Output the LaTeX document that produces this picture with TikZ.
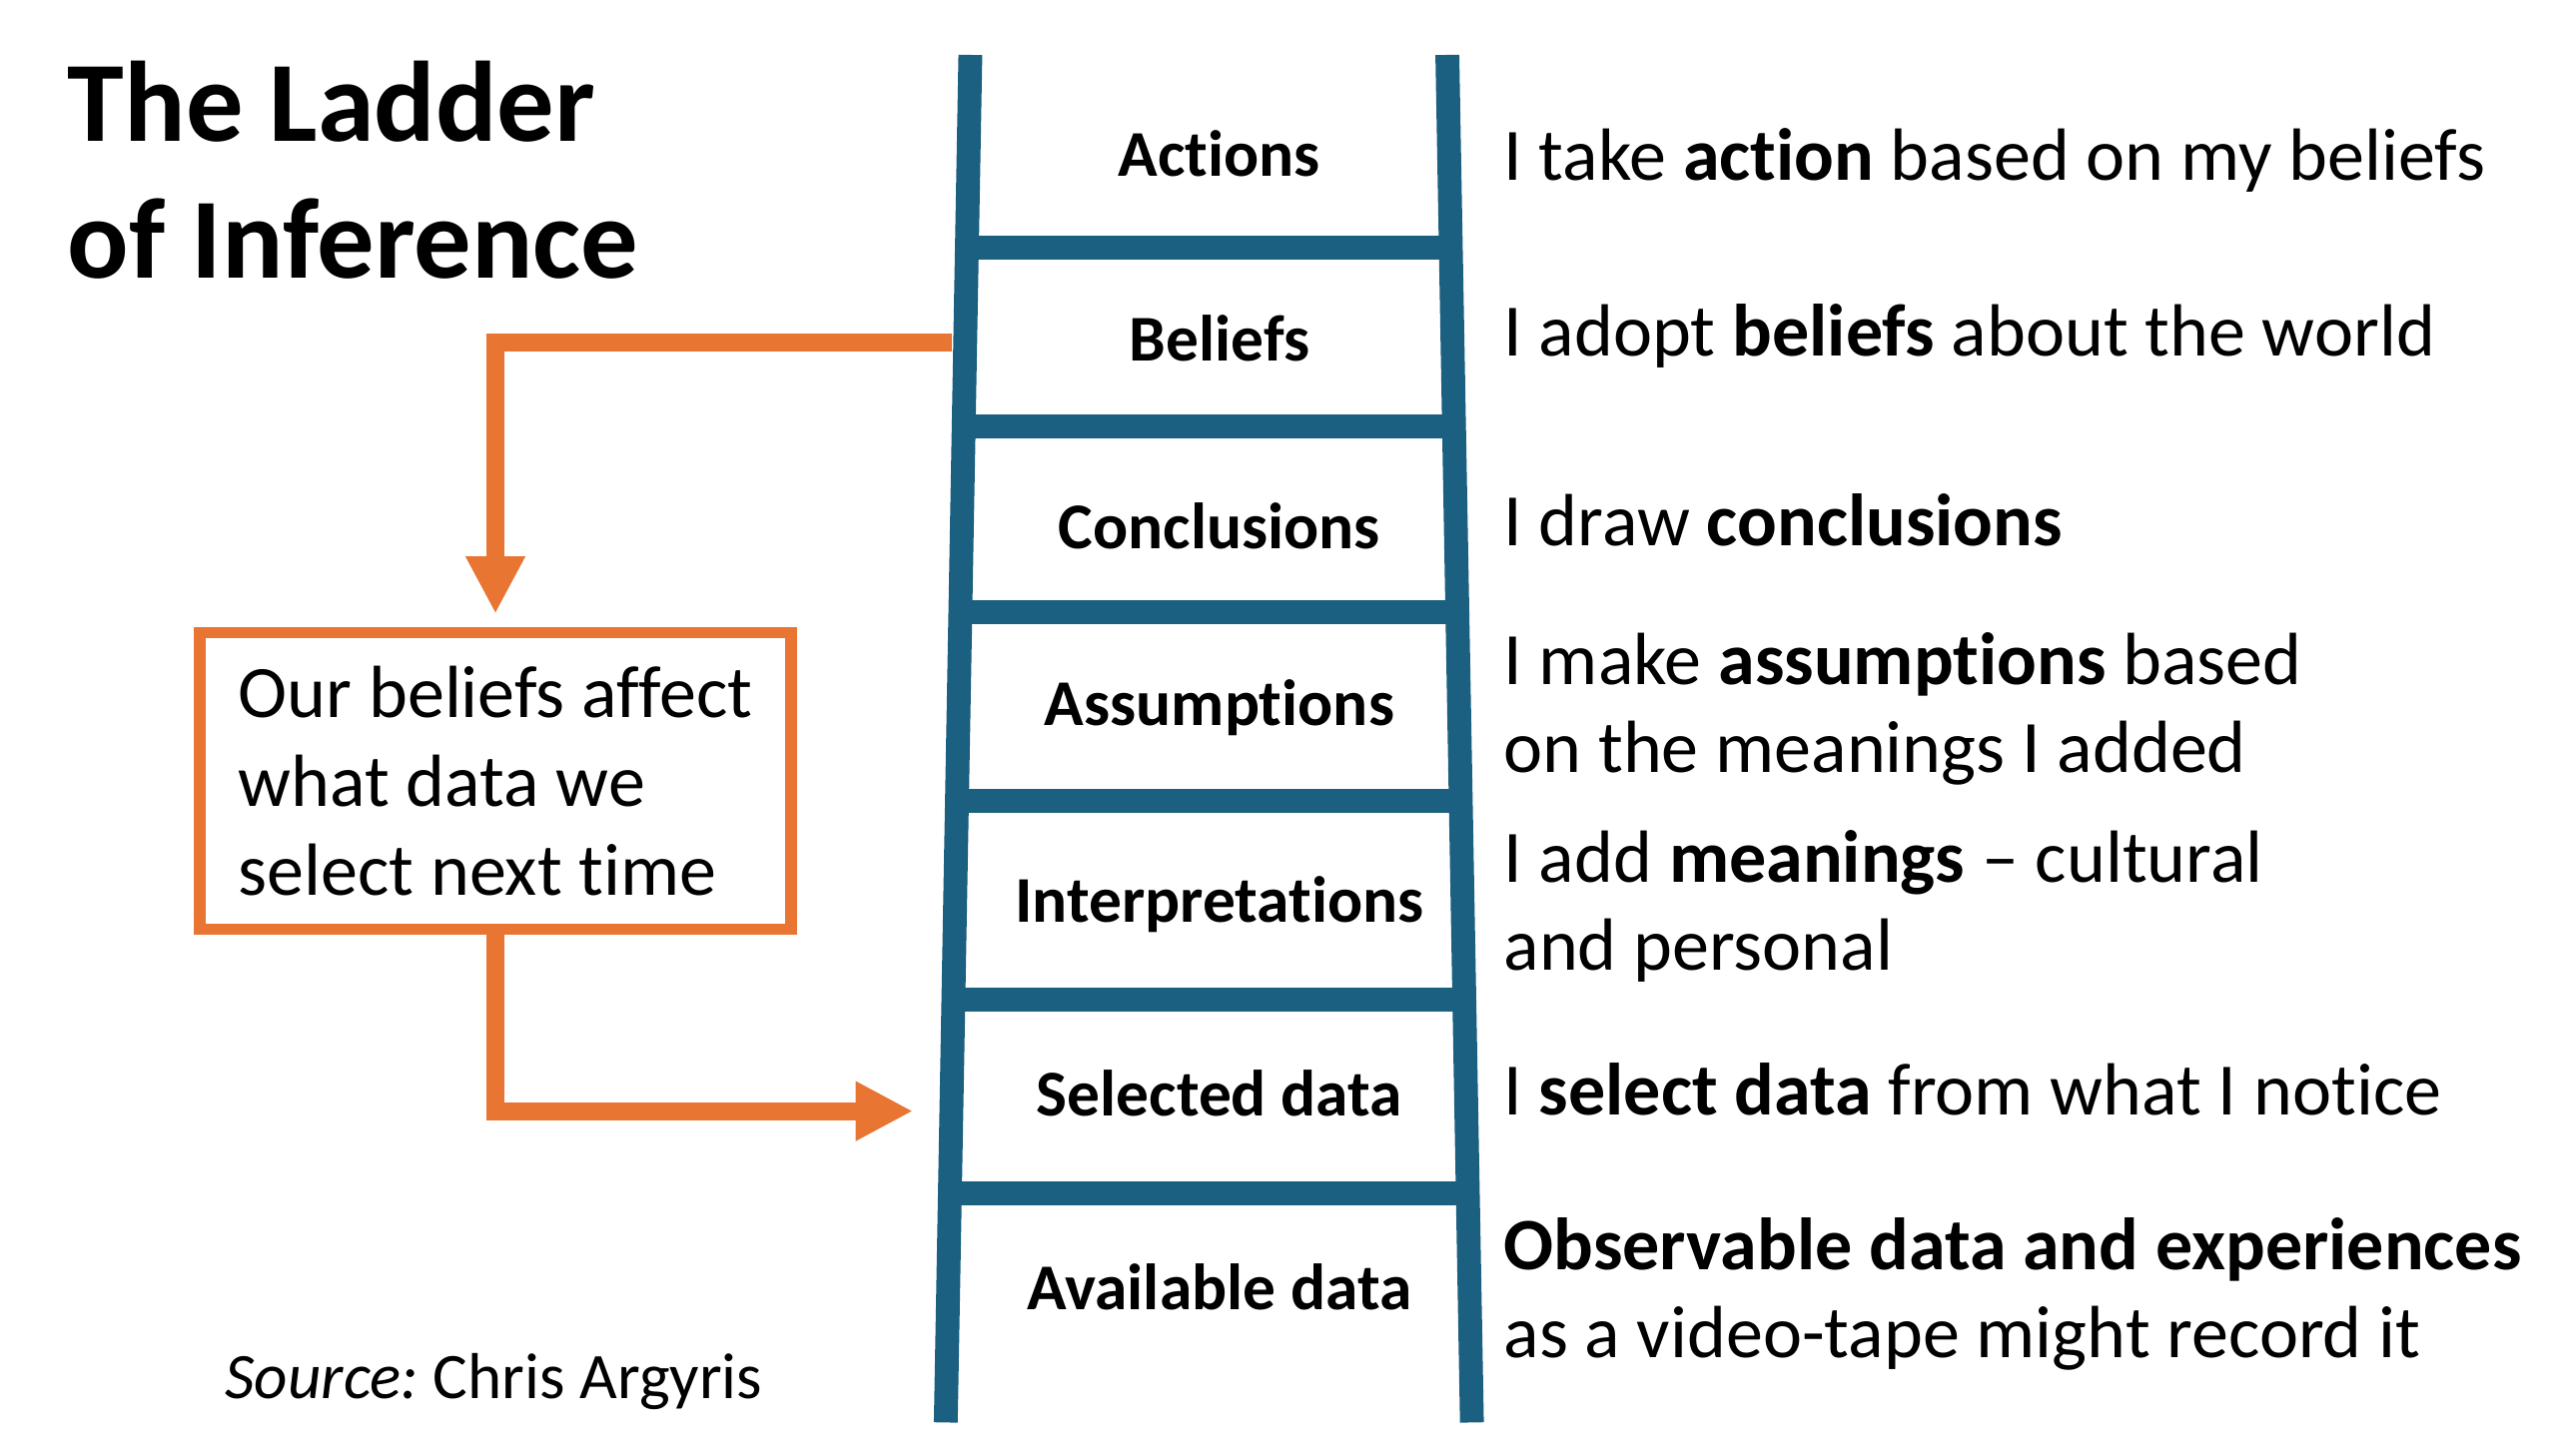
\documentclass[tikz,border=0pt]{standalone}
\usepackage{fontspec}
\setmainfont{Carlito}[Ligatures={TeX,NoCommon}]
\usetikzlibrary{arrows.meta,calc,positioning}
\definecolor{ladderblue}{RGB}{27,96,128}
\definecolor{arroworange}{RGB}{233,117,50}
\tikzstyle{rail} = [draw=ladderblue, line width=6.9pt]
\tikzstyle{rung} = [draw=ladderblue, line width=6.9pt]
\tikzstyle{steplabel} = [font=\fontsize{18.9}{22}\selectfont\bfseries,
    anchor=base, inner sep=0pt]
\tikzstyle{says} = [font=\fontsize{21.4}{25.4}\selectfont, anchor=base west,
    align=left, inner sep=0pt]
\tikzstyle{flow} = [draw=arroworange, line width=5.2pt,
    -{Triangle[length=16.6pt,width=16.1pt]}]
\tikzstyle{note} = [draw=arroworange, line width=3.3pt, minimum width=6.008cm,
    minimum height=3.017cm, align=left,
    font=\fontsize{21.4}{25.8}\selectfont]

\begin{document}
\frenchspacing
\begin{tikzpicture}[x=0.016667cm, y=-0.016667cm]
  \useasboundingbox (0,0) rectangle (1560,888);
  % title and source
  \node [anchor=base west, align=left, inner sep=0pt,
    font=\fontsize{33.1}{39.6}\selectfont\bfseries] (title) at (41,170)
    {The Ladder\\of Inference};
  \node [anchor=base west, inner sep=0pt, font=\fontsize{18.8}{22}\selectfont]
    (source) at (137,853.5) {\textit{Source:} Chris Argyris};
  % the ladder
  \coordinate (lt) at (592,33.5);
  \coordinate (lb) at (577,868);
  \coordinate (rt) at (883,33.5);
  \coordinate (rb) at (898,868);
  \draw [rail] (lt) -- (lb);
  \draw [rail] (rt) -- (rb);
  \foreach \f in {0.1408,0.2714,0.4074,0.5458,0.6908,0.8322}
    \draw [rung] ($(lt)!\f!(lb)$) -- ($(rt)!\f!(rb)$);
  \node [steplabel] (actions) at (744,107.5) {Actions};
  \node [steplabel] (beliefs) at (744,220) {Beliefs};
  \node [steplabel] (conclusions) at (744,334.7) {Conclusions};
  \node [steplabel] (assumptions) at (744,443) {Assumptions};
  \node [steplabel] (interpretations) at (744,562.5) {Interpretations};
  \node [steplabel] (selected) at (744,681) {Selected data};
  \node [steplabel] (available) at (744,799) {Available data};
  % what each rung says
  \node [says] (sayact) at (917,109.8) {I take \textbf{action} based on my beliefs};
  \node [says] (saybel) at (917,217.4) {I adopt \textbf{beliefs} about the world};
  \node [says] (saycon) at (917,333) {I draw \textbf{conclusions}};
  \node [says] (sayass) at (917,471.4) {I make \textbf{assumptions} based\\on the meanings I added};
  \node [says] (sayint) at (917,591.8) {I add \textbf{meanings} \textendash{} cultural\\and personal};
  \node [says] (saysel) at (917,680.5) {I \textbf{select data} from what I notice};
  \node [says] (sayava) at (917,828.6) {\textbf{Observable data and experiences}\\as a video-tape might record it};
  % the loop back down
  \node [note] (loop) at (302.25,476.5) {Our beliefs affect\\what data we\\select next time};
  \coordinate (beliefout) at (581,209);
  \coordinate (selectin) at (557,678);
  \draw [flow, shorten >=3.8pt] (beliefout) -| (loop.north);
  \draw [flow] (loop.south) |- (selectin);
\end{tikzpicture}
\end{document}
